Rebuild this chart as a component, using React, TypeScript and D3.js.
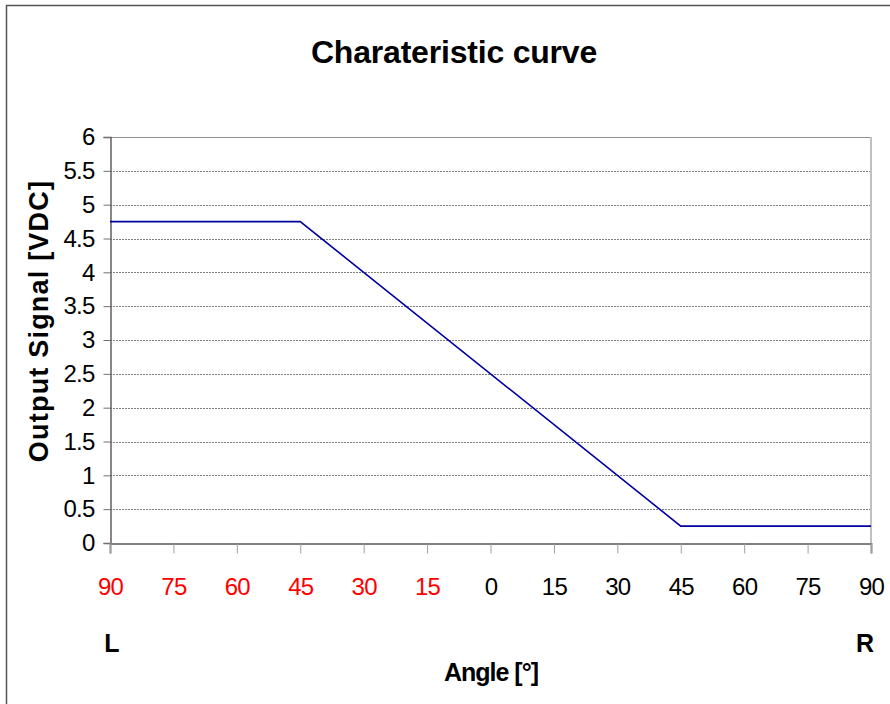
import { useEffect, useRef } from 'react';
import * as d3 from 'd3';

const angles = [-90, -75, -60, -45, -30, -15, 0, 15, 30, 45, 60, 75, 90];
const angleLabels = ['90', '75', '60', '45', '30', '15', '0', '15', '30', '45', '60', '75', '90'];
// breakpoints of the characteristic curve
const curveAngles = [-90, -45, 45, 90];
const curveSignal = [4.75, 4.75, 0.25, 0.25];
const yTicks = [0, 0.5, 1, 1.5, 2, 2.5, 3, 3.5, 4, 4.5, 5, 5.5, 6];

const W = 890;
const H = 704;
const FONT = '"Liberation Sans", Arial, sans-serif';

export default function App() {
  const svgRef = useRef<SVGSVGElement>(null);

  useEffect(() => {
    const svg = d3.select(svgRef.current);
    svg.selectAll('*').remove();

    const left = 110;
    const right = 871;
    const top = 137;
    const bottom = 543;

    const x = d3.scaleLinear().domain([-90, 90]).range([left, right]);
    const y = d3.scaleLinear().domain([0, 6]).range([bottom, top]);

    svg.append('rect').attr('width', W).attr('height', H).attr('fill', '#fff');

    // outer frame
    svg
      .append('path')
      .attr('d', `M6.5,${H} V5.5 H${W}`)
      .attr('fill', 'none')
      .attr('stroke', '#555')
      .attr('stroke-width', 1.5);

    // title
    svg
      .append('text')
      .attr('x', 454)
      .attr('y', 63)
      .attr('text-anchor', 'middle')
      .attr('font-family', FONT)
      .attr('font-weight', 'bold')
      .attr('font-size', 32)
      .attr('letter-spacing', -0.2)
      .text('Charateristic curve');

    // grid
    svg
      .append('g')
      .selectAll('line')
      .data(yTicks.filter((d) => d > 0 && d < 6))
      .join('line')
      .attr('x1', left)
      .attr('x2', right)
      .attr('y1', (d) => Math.round(y(d)) + 0.5)
      .attr('y2', (d) => Math.round(y(d)) + 0.5)
      .attr('stroke', '#808080')
      .attr('stroke-width', 1)
      .attr('stroke-dasharray', '2,1');

    // plot border top + right
    svg
      .append('line')
      .attr('x1', left)
      .attr('x2', right)
      .attr('y1', top + 0.5)
      .attr('y2', top + 0.5)
      .attr('stroke', '#909090')
      .attr('stroke-width', 1);
    svg
      .append('line')
      .attr('x1', right)
      .attr('x2', right)
      .attr('y1', top)
      .attr('y2', bottom)
      .attr('stroke', '#c0c0c0')
      .attr('stroke-width', 2);

    // y axis
    const yAxis = d3
      .axisLeft(y)
      .tickValues(yTicks)
      .tickSize(7)
      .tickFormat((d) => String(d));
    const gy = svg
      .append('g')
      .attr('transform', `translate(${left + 0.5},0)`)
      .call(yAxis);
    gy.select('.domain').attr('stroke', '#606060').attr('stroke-width', 1.5);
    gy.selectAll('.tick line').attr('stroke', '#707070');
    gy.selectAll('.tick text')
      .attr('font-family', FONT)
      .attr('font-size', 24)
      .attr('letter-spacing', -0.8)
      .attr('fill', '#000')
      .attr('x', -16);
    gy.attr('font-size', null).attr('font-family', null);

    // x axis
    const xAxis = d3
      .axisBottom(x)
      .tickValues(angles)
      .tickSize(10)
      .tickFormat((_, i) => angleLabels[i]);
    const gx = svg
      .append('g')
      .attr('transform', `translate(0,${bottom + 0.5})`)
      .call(xAxis);
    gx.select('.domain').attr('stroke', '#808080').attr('stroke-width', 2);
    gx.selectAll('.tick line').attr('stroke', '#a0a0a0');
    gx.selectAll<SVGTextElement, number>('.tick text')
      .attr('font-family', FONT)
      .attr('font-size', 24)
      .attr('letter-spacing', -0.8)
      .attr('y', 34)
      .attr('dy', '0.71em')
      .attr('fill', (d) => (d < 0 ? '#ff0000' : '#000'));
    gx.attr('font-size', null).attr('font-family', null);

    // curve
    const line = d3
      .line<number>()
      .x((_, i) => x(curveAngles[i]))
      .y((d) => y(d));
    svg
      .append('path')
      .datum(curveSignal)
      .attr('d', line)
      .attr('fill', 'none')
      .attr('stroke', '#0000a0')
      .attr('stroke-width', 1.6);

    // L / R markers
    svg
      .append('text')
      .attr('x', x(-90) + 2)
      .attr('y', 652)
      .attr('text-anchor', 'middle')
      .attr('font-family', FONT)
      .attr('font-weight', 'bold')
      .attr('font-size', 25)
      .text('L');
    svg
      .append('text')
      .attr('x', x(90) - 6)
      .attr('y', 652)
      .attr('text-anchor', 'middle')
      .attr('font-family', FONT)
      .attr('font-weight', 'bold')
      .attr('font-size', 25)
      .text('R');

    // axis titles
    svg
      .append('text')
      .attr('x', 491)
      .attr('y', 681)
      .attr('text-anchor', 'middle')
      .attr('font-family', FONT)
      .attr('font-weight', 'bold')
      .attr('font-size', 25)
      .attr('letter-spacing', -1)
      .text('Angle [°]');
    svg
      .append('text')
      .attr('transform', 'translate(48,321) rotate(-90)')
      .attr('text-anchor', 'middle')
      .attr('font-family', FONT)
      .attr('font-weight', 'bold')
      .attr('font-size', 27)
      .attr('letter-spacing', 1.2)
      .text('Output Signal [VDC]');
  }, []);

  return (
    <svg
      ref={svgRef}
      width={W}
      height={H}
      style={{ display: 'block', position: 'absolute', left: 0, top: 0 }}
    />
  );
}
